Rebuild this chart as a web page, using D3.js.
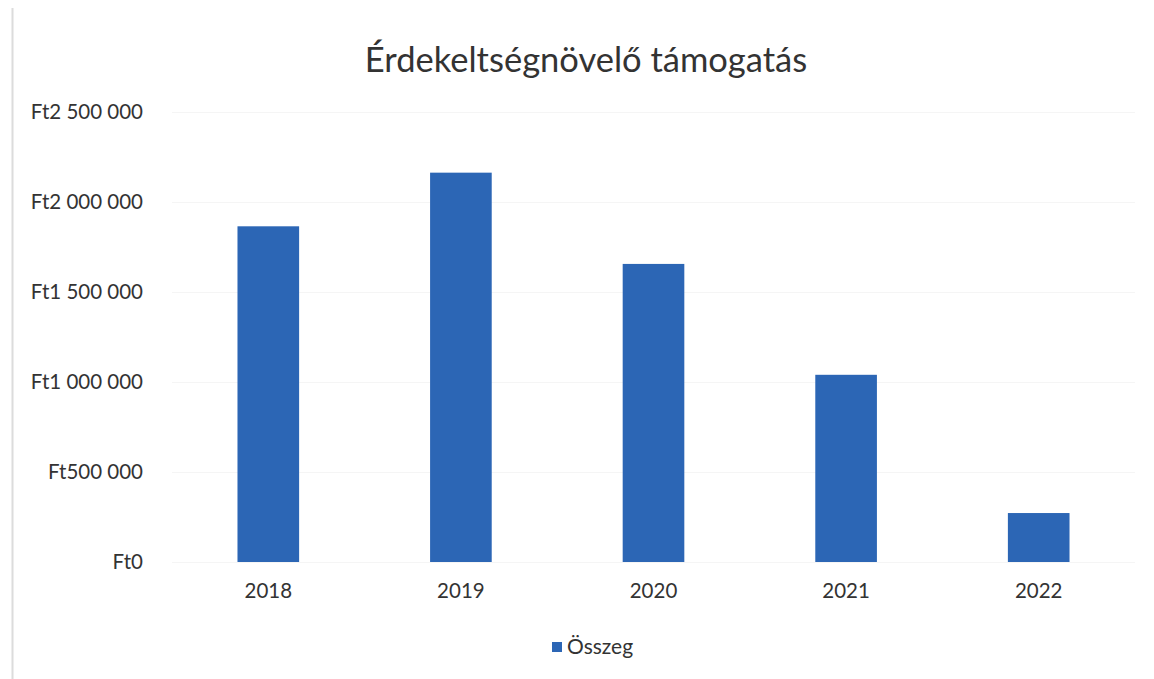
<!DOCTYPE html>
<html>
<head>
<meta charset="utf-8">
<script src="https://cdn.jsdelivr.net/npm/d3@7"></script>
<style>
  html, body { margin: 0; padding: 0; background: #fff; }
  svg { display: block; }
  text { font-family: Lato, "Open Sans", sans-serif; fill: #333; }
</style>
</head>
<body>
<svg id="chart" width="1154" height="679"></svg>
<script>
const chartTitle = "Érdekeltségnövelő támogatás";
const categories = ["2018", "2019", "2020", "2021", "2022"];
const seriesName = "Összeg";
const seriesValues = [1865000, 2163000, 1656000, 1040000, 272000];
const yTicks = [0, 500000, 1000000, 1500000, 2000000, 2500000];
const yTickLabels = ["Ft0", "Ft500 000", "Ft1 000 000", "Ft1 500 000", "Ft2 000 000", "Ft2 500 000"];

const W = 1154, H = 679;
const margin = { top: 112, right: 19, bottom: 117, left: 172 };
const svg = d3.select("#chart");

// left page border
svg.append("line")
  .attr("x1", 12.5).attr("x2", 12.5).attr("y1", 8).attr("y2", H)
  .attr("stroke", "#dcdcdc").attr("stroke-width", 2);

const x = d3.scaleBand()
  .domain(categories)
  .range([margin.left, W - margin.right])
  .paddingInner(0.68).paddingOuter(0.34);

const y = d3.scaleLinear()
  .domain([0, 2500000])
  .range([H - margin.bottom, margin.top]);

// gridlines (very faint)
svg.append("g")
  .selectAll("line")
  .data(yTicks)
  .join("line")
  .attr("x1", margin.left).attr("x2", W - margin.right)
  .attr("y1", d => Math.round(y(d)) + 0.5).attr("y2", d => Math.round(y(d)) + 0.5)
  .attr("stroke", "#f5f5f5").attr("stroke-width", 1);

// bars
svg.append("g")
  .selectAll("rect")
  .data(seriesValues)
  .join("rect")
  .attr("x", (d, i) => x(categories[i]))
  .attr("width", x.bandwidth())
  .attr("y", d => y(d))
  .attr("height", d => y(0) - y(d))
  .attr("fill", "#2c66b5");

// y axis
const yAxis = d3.axisLeft(y)
  .tickValues(yTicks)
  .tickFormat((d, i) => yTickLabels[i])
  .tickSize(0).tickPadding(0);
const yg = svg.append("g")
  .attr("transform", `translate(143,0)`)
  .call(yAxis);
yg.select(".domain").remove();
yg.selectAll("text")
  .style("font-family", "Lato, 'Open Sans', sans-serif")
  .style("font-size", "20.5px").attr("fill", "#3a3a3a");

// x axis
const xAxis = d3.axisBottom(x).tickSize(0).tickPadding(0);
const xg = svg.append("g")
  .attr("transform", `translate(0,${y(0) + 21})`)
  .call(xAxis);
xg.select(".domain").remove();
xg.selectAll("text")
  .style("font-family", "Lato, 'Open Sans', sans-serif")
  .style("font-size", "20.5px").attr("fill", "#3a3a3a");

// title
svg.append("text")
  .attr("x", 586).attr("y", 72)
  .attr("text-anchor", "middle")
  .style("font-size", "34.5px")
  .attr("fill", "#262626")
  .text(chartTitle);

// legend
const lg = svg.append("g").attr("transform", "translate(552,647)");
lg.append("rect").attr("x", 0).attr("y", -5).attr("width", 10).attr("height", 10).attr("fill", "#2c66b5");
lg.append("text").attr("x", 15).attr("y", 0).attr("dy", "0.35em")
  .style("font-size", "21px").attr("fill", "#2a2a2a").text(seriesName);
</script>
</body>
</html>
